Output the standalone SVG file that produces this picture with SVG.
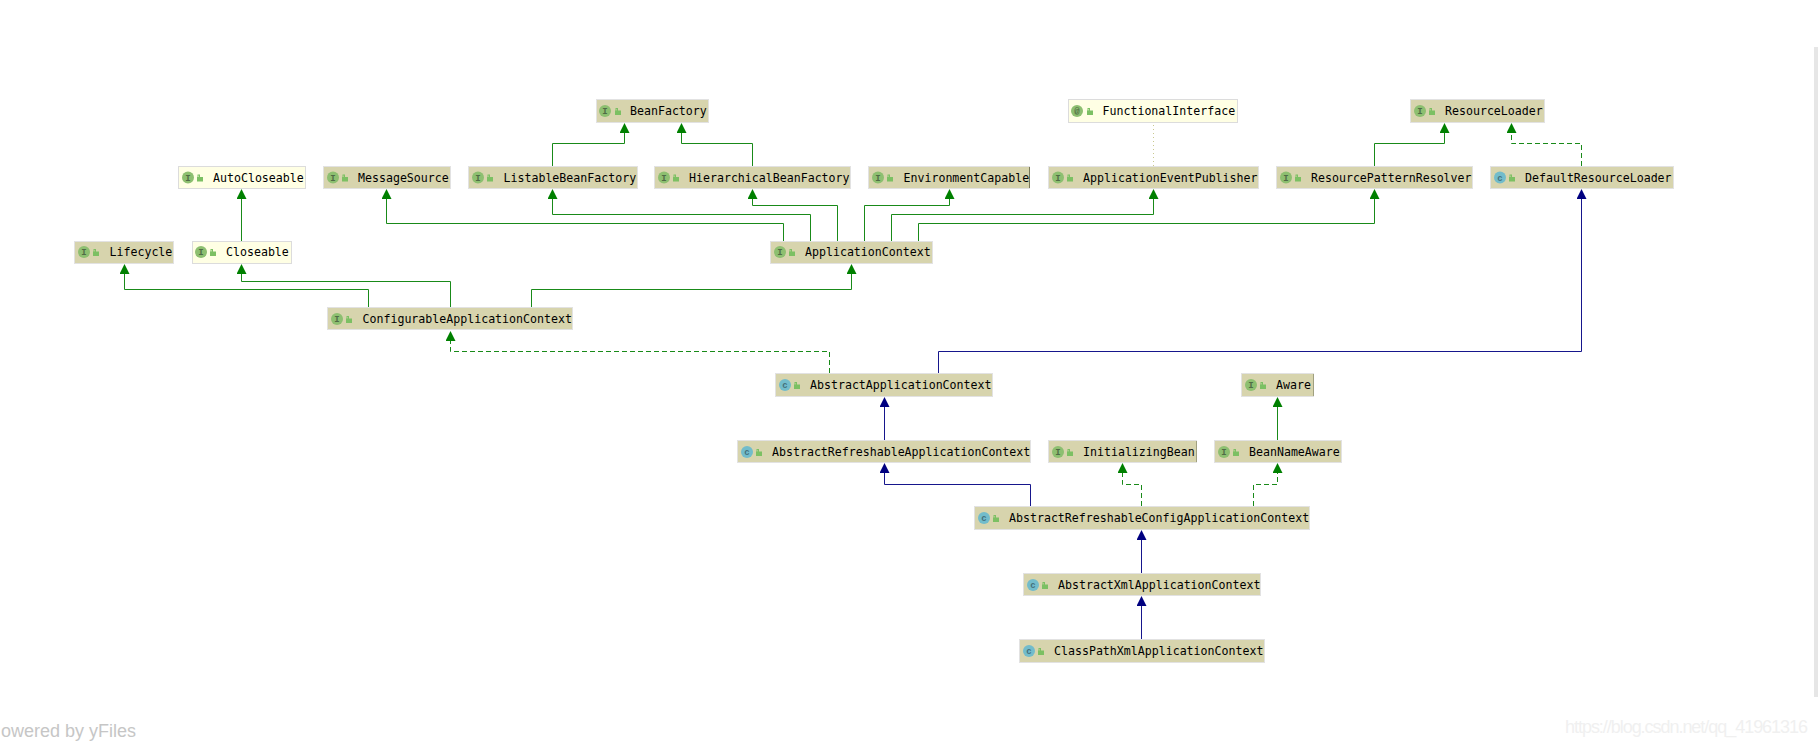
<svg xmlns="http://www.w3.org/2000/svg" width="1818" height="745" viewBox="0 0 1818 745">
<style>
text{white-space:pre}
.b{fill:#d7d4ad;stroke:#e2e2e2;stroke-width:1}
.y{fill:#ffffe4;stroke:#dcdcdc;stroke-width:1}
.t{font-family:"DejaVu Sans Mono","Liberation Mono",monospace;font-size:11.6px;fill:#000}
.ci{fill:#8dbf70}
.cc{fill:#72bccb}
.g{font-family:"Liberation Mono",monospace;font-size:9px;font-weight:bold;fill:#4f6b45;text-anchor:middle}
.gc{fill:#44707c}
.l{fill:#7cc063}
.c{fill:none;stroke-width:1}
.gr{stroke:#198a19}
.bl{stroke:#16168c}
.d{stroke-dasharray:5 3}
.dot{stroke:#c9c98e;stroke-dasharray:1 3}
.wm{font-family:"Liberation Sans",Arial,sans-serif}
</style>
<defs>
<marker id="ag" markerUnits="userSpaceOnUse" markerWidth="12" markerHeight="12" refX="5" refY="5" orient="auto"><path d="M0 0L10 5L0 10Z" fill="#008000"/></marker>
<marker id="an" markerUnits="userSpaceOnUse" markerWidth="12" markerHeight="12" refX="5" refY="5" orient="auto"><path d="M0 0L10 5L0 10Z" fill="#000080"/></marker>
<g id="lock"><path class="l" d="M0 2.5h6v4.500h-6zM0.500 2.500v-2.500h2.500v2.500h-1v-1.500h-0.500v1.500z"/></g>
</defs>
<rect width="1818" height="745" fill="#fff"/>
<rect x="1814" y="47" width="4" height="650" fill="#e6e6e6"/>
<g id="connectors">
<path class="c gr" marker-end="url(#ag)" d="M552.500 166V143.500H624.500V128"/>
<path class="c gr" marker-end="url(#ag)" d="M752.500 166V143.500H681.500V128"/>
<path class="c gr" marker-end="url(#ag)" d="M241.500 241V194"/>
<path class="c gr" marker-end="url(#ag)" d="M368.500 307V289.500H124.500V269"/>
<path class="c gr" marker-end="url(#ag)" d="M450.500 307V281.500H241.500V269"/>
<path class="c gr" marker-end="url(#ag)" d="M531.500 307V289.500H851.500V269"/>
<path class="c gr" marker-end="url(#ag)" d="M783.500 241V223.500H386.500V194"/>
<path class="c gr" marker-end="url(#ag)" d="M810.500 241V214.500H552.500V194"/>
<path class="c gr" marker-end="url(#ag)" d="M837.500 241V205.500H752.500V194"/>
<path class="c gr" marker-end="url(#ag)" d="M864.500 241V205.500H949.500V194"/>
<path class="c gr" marker-end="url(#ag)" d="M891.500 241V214.500H1153.500V194"/>
<path class="c gr" marker-end="url(#ag)" d="M918.500 241V223.500H1374.500V194"/>
<path class="c dot" d="M1153.500 166V123"/>
<path class="c gr" marker-end="url(#ag)" d="M1374.500 166V143.500H1444.500V128"/>
<path class="c gr d" marker-end="url(#ag)" d="M1581.500 166V143.500H1511.500V128"/>
<path class="c bl" marker-end="url(#an)" d="M938.500 373V351.500H1581.500V194"/>
<path class="c gr d" marker-end="url(#ag)" d="M829.500 373V351.500H450.500V336"/>
<path class="c bl" marker-end="url(#an)" d="M884.500 440V402"/>
<path class="c gr" marker-end="url(#ag)" d="M1277.500 440V402"/>
<path class="c bl" marker-end="url(#an)" d="M1030.500 506V484.500H884.500V468"/>
<path class="c gr d" marker-end="url(#ag)" d="M1141.500 506V484.500H1122.500V468"/>
<path class="c gr d" marker-end="url(#ag)" d="M1253.500 506V484.500H1277.500V468"/>
<path class="c bl" marker-end="url(#an)" d="M1141.500 573V535"/>
<path class="c bl" marker-end="url(#an)" d="M1141.500 639V601"/>
</g>
<g id="BeanFactory"><rect class="b" x="596.500" y="99.500" width="112" height="23"/><circle class="ci" cx="605" cy="111" r="6"/><text class="g" x="605" y="114">I</text><use href="#lock" x="615" y="108"/><text class="t" x="630" y="115">BeanFactory</text></g>
<g id="FunctionalInterface"><rect class="y" x="1068.500" y="99.500" width="169" height="23"/><circle class="ci" cx="1077" cy="111" r="6"/><text class="g" x="1077" y="114">@</text><use href="#lock" x="1087" y="108"/><text class="t" x="1102.500" y="115">FunctionalInterface</text></g>
<g id="ResourceLoader"><rect class="b" x="1410.500" y="99.500" width="134" height="23"/><circle class="ci" cx="1420" cy="111" r="6"/><text class="g" x="1420" y="114">I</text><use href="#lock" x="1429" y="108"/><text class="t" x="1445" y="115">ResourceLoader</text></g>
<g id="AutoCloseable"><rect class="y" x="178.500" y="166.500" width="127" height="22"/><circle class="ci" cx="188" cy="177.500" r="6"/><text class="g" x="188" y="180.500">I</text><use href="#lock" x="197" y="174.500"/><text class="t" x="213" y="181.500">AutoCloseable</text></g>
<g id="MessageSource"><rect class="b" x="323.500" y="166.500" width="127" height="22"/><circle class="ci" cx="333" cy="177.500" r="6"/><text class="g" x="333" y="180.500">I</text><use href="#lock" x="342" y="174.500"/><text class="t" x="358" y="181.500">MessageSource</text></g>
<g id="ListableBeanFactory"><rect class="b" x="468.500" y="166.500" width="169" height="22"/><circle class="ci" cx="478" cy="177.500" r="6"/><text class="g" x="478" y="180.500">I</text><use href="#lock" x="487" y="174.500"/><text class="t" x="503.500" y="181.500">ListableBeanFactory</text></g>
<g id="HierarchicalBeanFactory"><rect class="b" x="654.500" y="166.500" width="196" height="22"/><circle class="ci" cx="664" cy="177.500" r="6"/><text class="g" x="664" y="180.500">I</text><use href="#lock" x="673" y="174.500"/><text class="t" x="689" y="181.500">HierarchicalBeanFactory</text></g>
<g id="EnvironmentCapable"><rect class="b" x="868.500" y="166.500" width="161" height="22"/><path d="M1029.500 167V188" stroke="#77775a"/><circle class="ci" cx="878" cy="177.500" r="6"/><text class="g" x="878" y="180.500">I</text><use href="#lock" x="887" y="174.500"/><text class="t" x="903.500" y="181.500">EnvironmentCapable</text></g>
<g id="ApplicationEventPublisher"><rect class="b" x="1048.500" y="166.500" width="210" height="22"/><circle class="ci" cx="1058" cy="177.500" r="6"/><text class="g" x="1058" y="180.500">I</text><use href="#lock" x="1067" y="174.500"/><text class="t" x="1083" y="181.500">ApplicationEventPublisher</text></g>
<g id="ResourcePatternResolver"><rect class="b" x="1276.500" y="166.500" width="196" height="22"/><circle class="ci" cx="1286" cy="177.500" r="6"/><text class="g" x="1286" y="180.500">I</text><use href="#lock" x="1295" y="174.500"/><text class="t" x="1311" y="181.500">ResourcePatternResolver</text></g>
<g id="DefaultResourceLoader"><rect class="b" x="1490.500" y="166.500" width="183" height="22"/><circle class="cc" cx="1500" cy="177.500" r="6"/><text class="g gc" x="1500" y="180.500">c</text><use href="#lock" x="1509" y="174.500"/><text class="t" x="1525" y="181.500">DefaultResourceLoader</text></g>
<g id="Lifecycle"><rect class="b" x="74.500" y="241.500" width="99" height="22"/><circle class="ci" cx="84" cy="252" r="6"/><text class="g" x="84" y="255">I</text><use href="#lock" x="93" y="249"/><text class="t" x="109.500" y="256">Lifecycle</text></g>
<g id="Closeable"><rect class="y" x="192.500" y="241.500" width="99" height="22"/><circle class="ci" cx="201" cy="252" r="6"/><text class="g" x="201" y="255">I</text><use href="#lock" x="210" y="249"/><text class="t" x="226" y="256">Closeable</text></g>
<g id="ApplicationContext"><rect class="b" x="770.500" y="241.500" width="162" height="22"/><circle class="ci" cx="780" cy="252" r="6"/><text class="g" x="780" y="255">I</text><use href="#lock" x="789" y="249"/><text class="t" x="805" y="256">ApplicationContext</text></g>
<g id="ConfigurableApplicationContext"><rect class="b" x="327.500" y="307.500" width="245" height="22"/><circle class="ci" cx="337" cy="319" r="6"/><text class="g" x="337" y="322">I</text><use href="#lock" x="346" y="316"/><text class="t" x="362.500" y="323">ConfigurableApplicationContext</text></g>
<g id="AbstractApplicationContext"><rect class="b" x="775.500" y="373.500" width="217" height="23"/><circle class="cc" cx="785" cy="385" r="6"/><text class="g gc" x="785" y="388">c</text><use href="#lock" x="794" y="382"/><text class="t" x="810" y="389">AbstractApplicationContext</text></g>
<g id="Aware"><rect class="b" x="1241.500" y="373.500" width="72" height="23"/><path d="M1313.500 374V396" stroke="#a0a080"/><circle class="ci" cx="1251" cy="385" r="6"/><text class="g" x="1251" y="388">I</text><use href="#lock" x="1260" y="382"/><text class="t" x="1276" y="389">Aware</text></g>
<g id="AbstractRefreshableApplicationContext"><rect class="b" x="737.500" y="440.500" width="293" height="22"/><circle class="cc" cx="747" cy="452" r="6"/><text class="g gc" x="747" y="455">c</text><use href="#lock" x="756" y="449"/><text class="t" x="772" y="456">AbstractRefreshableApplicationContext</text></g>
<g id="InitializingBean"><rect class="b" x="1048.500" y="440.500" width="148" height="22"/><path d="M1196.500 441V462" stroke="#a0a080"/><circle class="ci" cx="1058" cy="452" r="6"/><text class="g" x="1058" y="455">I</text><use href="#lock" x="1067" y="449"/><text class="t" x="1083" y="456">InitializingBean</text></g>
<g id="BeanNameAware"><rect class="b" x="1214.500" y="440.500" width="127" height="22"/><circle class="ci" cx="1224" cy="452" r="6"/><text class="g" x="1224" y="455">I</text><use href="#lock" x="1233" y="449"/><text class="t" x="1249" y="456">BeanNameAware</text></g>
<g id="AbstractRefreshableConfigApplicationContext"><rect class="b" x="974.500" y="506.500" width="335" height="23"/><circle class="cc" cx="984" cy="518" r="6"/><text class="g gc" x="984" y="521">c</text><use href="#lock" x="993" y="515"/><text class="t" x="1009" y="522">AbstractRefreshableConfigApplicationContext</text></g>
<g id="AbstractXmlApplicationContext"><rect class="b" x="1023.500" y="573.500" width="237" height="22"/><circle class="cc" cx="1033" cy="585" r="6"/><text class="g gc" x="1033" y="588">c</text><use href="#lock" x="1042" y="582"/><text class="t" x="1058" y="589">AbstractXmlApplicationContext</text></g>
<g id="ClassPathXmlApplicationContext"><rect class="b" x="1019.500" y="639.500" width="245" height="23"/><circle class="cc" cx="1029" cy="651" r="6"/><text class="g gc" x="1029" y="654">c</text><use href="#lock" x="1038" y="648"/><text class="t" x="1054" y="655">ClassPathXmlApplicationContext</text></g>
<text class="wm" x="1" y="737" font-size="18" fill="#c6c6c6">owered by yFiles</text>
<text class="wm" x="1565" y="733" font-size="18" fill="#f0f0f0" textLength="243">https://blog.csdn.net/qq_41961316</text>
</svg>
